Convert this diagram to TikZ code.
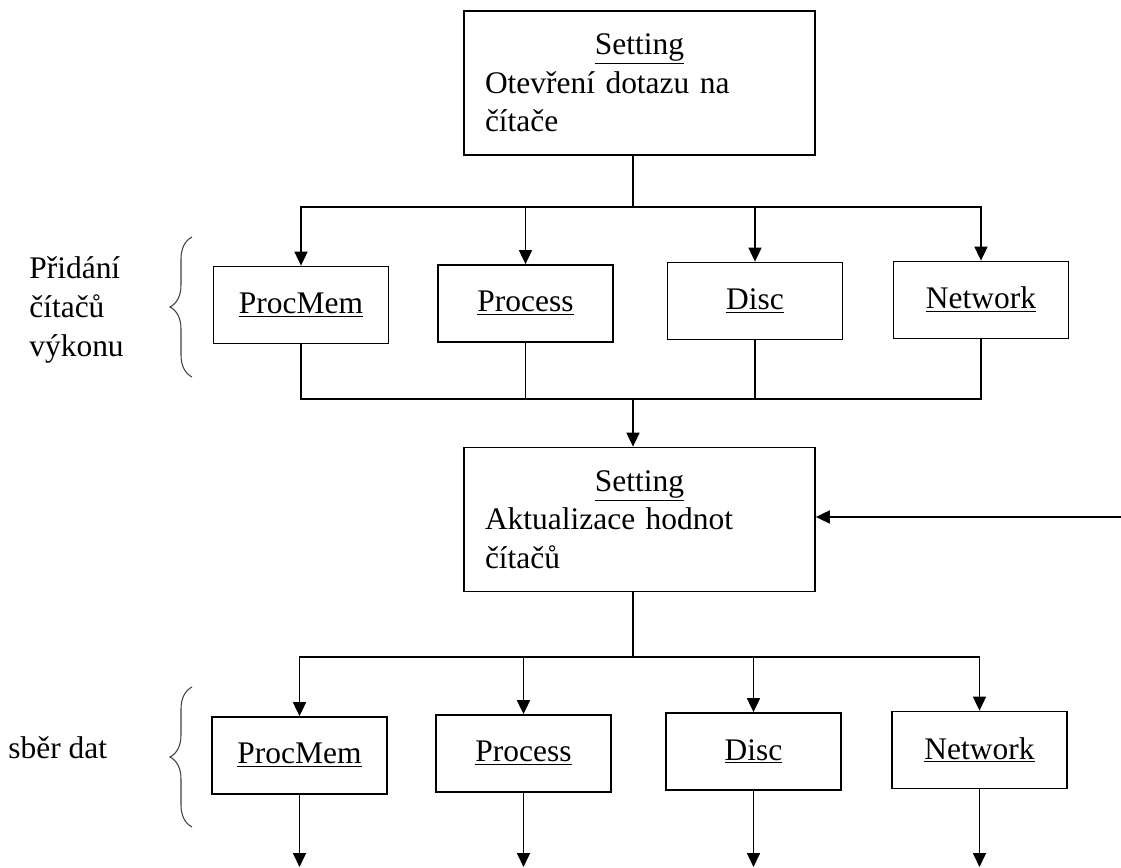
\documentclass[tikz,border=0pt]{standalone}
\usepackage{fontspec}
\setmainfont{Liberation Serif}
\usetikzlibrary{arrows.meta, positioning, calc, decorations.pathreplacing}

\begin{document}
\begin{tikzpicture}[
  every node/.style={font=\fontsize{17.9}{22}\selectfont},
  setbox/.style={rectangle, draw, line width=1pt, minimum width=7.02cm, minimum height=2.88cm, text width=6.18cm, inner xsep=0.42cm, inner ysep=0pt},
  ctrbox/.style={rectangle, draw, line width=1pt, minimum width=3.5cm, minimum height=1.54cm},
  link/.style={line width=1pt},
  arr/.style={line width=1pt, -{Triangle[width=0.26cm,length=0.28cm]}},
  grpbrace/.style={decorate, decoration={brace, amplitude=0.44cm}, black!75, line width=0.6pt},
  grplabel/.style={anchor=west, align=left, inner sep=0pt},
]
\useasboundingbox (0,0) rectangle (22.42,-17.36);

% setting boxes
\node[setbox] (set1) at (12.79,-1.66) {\centering\underline{Setting}\par\raggedright Otevření dotazu na\\ čítače};
\node[setbox] (set2) at (12.79,-10.39) {\centering\underline{Setting}\par\raggedright Aktualizace hodnot\\ čítačů};

% counters, first row
\node[ctrbox] (pm1) at (6.02,-6.10) {\underline{ProcMem}};
\node[ctrbox] (pr1) at (10.51,-6.07) {\underline{Process}};
\node[ctrbox] (di1) at (15.10,-6.02) {\underline{Disc}};
\node[ctrbox] (nw1) at (19.62,-6.00) {\underline{Network}};

% counters, second row
\node[ctrbox] (pm2) at (5.99,-15.11) {\underline{ProcMem}};
\node[ctrbox] (pr2) at (10.47,-15.07) {\underline{Process}};
\node[ctrbox] (di2) at (15.07,-15.03) {\underline{Disc}};
\node[ctrbox] (nw2) at (19.59,-15.00) {\underline{Network}};

% group labels
\node[grplabel] (lbladd) at (0.58,-6.2) {Přidání\\čítačů\\výkonu};
\node[grplabel] (lblcol) at (0.16,-14.96) {sběr dat};
\draw[grpbrace] (3.84,-7.54) -- (3.84,-4.74);
\draw[grpbrace] (3.84,-16.54) -- (3.84,-13.74);

% bus points
\coordinate (busA) at (12.66,-4.14);
\coordinate (busB) at (12.66,-7.98);
\coordinate (busC) at (12.66,-13.14);
\coordinate (feed) at (22.42,-10.34);
\coordinate (bottom) at (0,-17.34);

\draw[link] (set1.south -| busA) -- (busA);
\foreach \n in {pm1, pr1, di1, nw1}
  \draw[arr] (busA) -| (\n.north);
\foreach \n in {pm1, pr1, di1, nw1}
  \draw[link] (\n.south) |- (busB);
\draw[arr] (busB) -- (set2.north -| busB);
\draw[arr] (feed) -- (set2.east |- feed);
\draw[link] (set2.south -| busC) -- (busC);
\foreach \n in {pm2, pr2, di2, nw2}
  \draw[arr] (busC) -| (\n.north);
\foreach \n in {pm2, pr2, di2, nw2}
  \draw[arr] (\n.south) -- (\n.south |- bottom);
\end{tikzpicture}
\end{document}
